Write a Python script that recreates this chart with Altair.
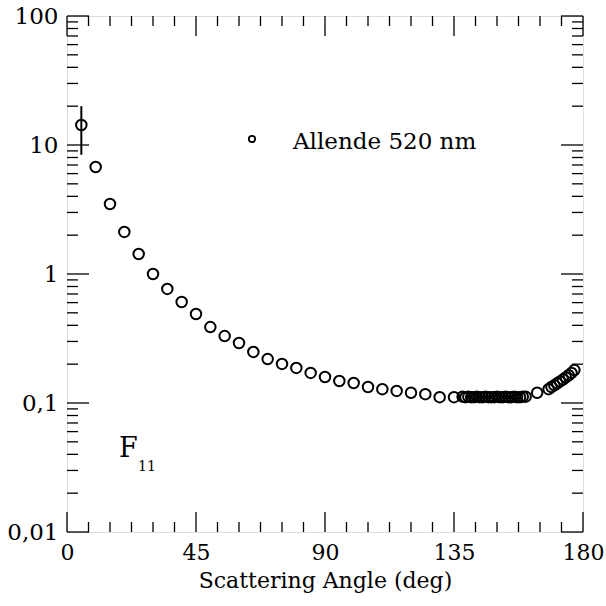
import altair as alt
import pandas as pd

# Phase function F11 for the Allende sample at 520 nm
angles = [5, 10, 15, 20, 25, 30, 35, 40, 45, 50, 55, 60, 65, 70, 75, 80, 85, 90,
          95, 100, 105, 110, 115, 120, 125, 130, 135,
          138, 139, 140, 141, 142, 143, 144, 145, 146, 147, 148, 149, 150, 151,
          152, 153, 154, 155, 156, 157, 158, 159, 160,
          164,
          168, 169, 170, 171, 172, 173, 174, 175, 176, 177]
f11 = [14.3, 6.75, 3.49, 2.12, 1.43, 1.0, 0.766, 0.607, 0.49, 0.388, 0.33, 0.292,
       0.249, 0.219, 0.201, 0.187, 0.171, 0.159, 0.148, 0.143, 0.133, 0.128, 0.124,
       0.120, 0.117, 0.111, 0.111,
       0.112, 0.111, 0.112, 0.111, 0.111, 0.112, 0.111, 0.111, 0.112, 0.111, 0.111,
       0.111, 0.112, 0.111, 0.111, 0.112, 0.111, 0.111, 0.112, 0.111, 0.111, 0.112,
       0.112,
       0.120,
       0.128, 0.133, 0.137, 0.142, 0.147, 0.152, 0.158, 0.164, 0.171, 0.180]

# error bar of the forward-most point
err_angle = [5]
err_low = [8.4]
err_high = [20.0]

x_major = [0, 45, 90, 135, 180]
x_minor = [m + k * 7.5 for m in [0, 45, 90, 135] for k in range(1, 6)]
y_major = [0.01, 0.1, 1, 10, 100]
y_minor = [d * k for d in [0.01, 0.1, 1, 10] for k in range(2, 10)]

W, H = 516, 516
FONT = "DejaVu Serif"

df = pd.DataFrame({"angle": angles, "f11": f11})
err = pd.DataFrame({"angle": err_angle, "lo": err_low, "hi": err_high})

xs = alt.Scale(domain=[0, 180], nice=False, zero=False)
ys = alt.Scale(type="log", domain=[0.01, 100], nice=False)

XTITLE = "Scattering Angle (deg)"
x_axis = alt.Axis(
    values=x_major, title=XTITLE, ticks=False, domain=False,
    grid=False, labelFont=FONT, labelFontSize=22, labelColor="black",
    labelPadding=10, labelFlush=False, labelOverlap=False,
    titleFont=FONT, titleFontSize=22, titleFontWeight="normal",
    titleColor="black", titlePadding=7)
y_axis = alt.Axis(
    values=y_major, labelExpr="replace(toString(datum.value), '.', ',')",
    title="", ticks=False, domain=False, grid=False, labelFont=FONT,
    labelFontSize=23, labelColor="black", labelPadding=9,
    labelFlush=False, labelOverlap=False)


def X(field):
    return alt.X(field, scale=xs, axis=x_axis, title=XTITLE)


def Y(field):
    return alt.Y(field, scale=ys, axis=y_axis, title="")


points = alt.Chart(df).mark_point(
    shape="circle", filled=False, size=110, color="black", strokeWidth=2, opacity=1
).encode(x=X("angle:Q"), y=Y("f11:Q"))

errbar = alt.Chart(err).mark_rule(color="black", strokeWidth=2).encode(
    x=X("angle:Q"), y=Y("lo:Q"), y2="hi:Q",
)


def xticks(vals, length):
    d = pd.DataFrame({"angle": vals})
    base = alt.Chart(d).mark_rule(color="black", strokeWidth=1.3)
    bottom = base.encode(x=X("angle:Q"), y=alt.value(H), y2=alt.value(H - length))
    top = base.encode(x=X("angle:Q"), y=alt.value(0), y2=alt.value(length))
    return [bottom, top]


def yticks(vals, length):
    d = pd.DataFrame({"f11": vals})
    base = alt.Chart(d).mark_rule(color="black", strokeWidth=1.3)
    left = base.encode(y=Y("f11:Q"), x=alt.value(0), x2=alt.value(length))
    right = base.encode(y=Y("f11:Q"), x=alt.value(W), x2=alt.value(W - length))
    return [left, right]


ticks = xticks(x_major, 20) + xticks(x_minor, 10) + yticks(y_major, 22) + yticks(y_minor, 11)

one = pd.DataFrame({"k": [0]})
legend_sym = alt.Chart(one).mark_point(
    shape="circle", filled=False, size=40, color="black", strokeWidth=1.8, opacity=1
).encode(x=alt.value(185), y=alt.value(123))
legend_txt = alt.Chart(pd.DataFrame({"s": ["Allende 520 nm"]})).mark_text(
    font=FONT, fontSize=23, align="left", baseline="alphabetic", color="black"
).encode(x=alt.value(226), y=alt.value(133), text="s:N")

f_txt = alt.Chart(pd.DataFrame({"s": ["F"]})).mark_text(
    font=FONT, fontSize=27, align="left", baseline="alphabetic", color="black"
).encode(x=alt.value(52), y=alt.value(441), text="s:N")
sub_txt = alt.Chart(pd.DataFrame({"s": ["11"]})).mark_text(
    font=FONT, fontSize=14, align="left", baseline="alphabetic", color="black"
).encode(x=alt.value(71), y=alt.value(455), text="s:N")

chart = alt.layer(
    points, errbar, *ticks, legend_sym, legend_txt, f_txt, sub_txt
).properties(
    width=W, height=H,
    autosize=alt.AutoSizeParams(type="none"),
    padding={"left": 67, "top": 16, "right": 23, "bottom": 74},
).configure_view(
    stroke="#222", strokeWidth=2
).configure(background="white")

chart.save("out.html", embed_options={"renderer": "svg", "actions": False})
